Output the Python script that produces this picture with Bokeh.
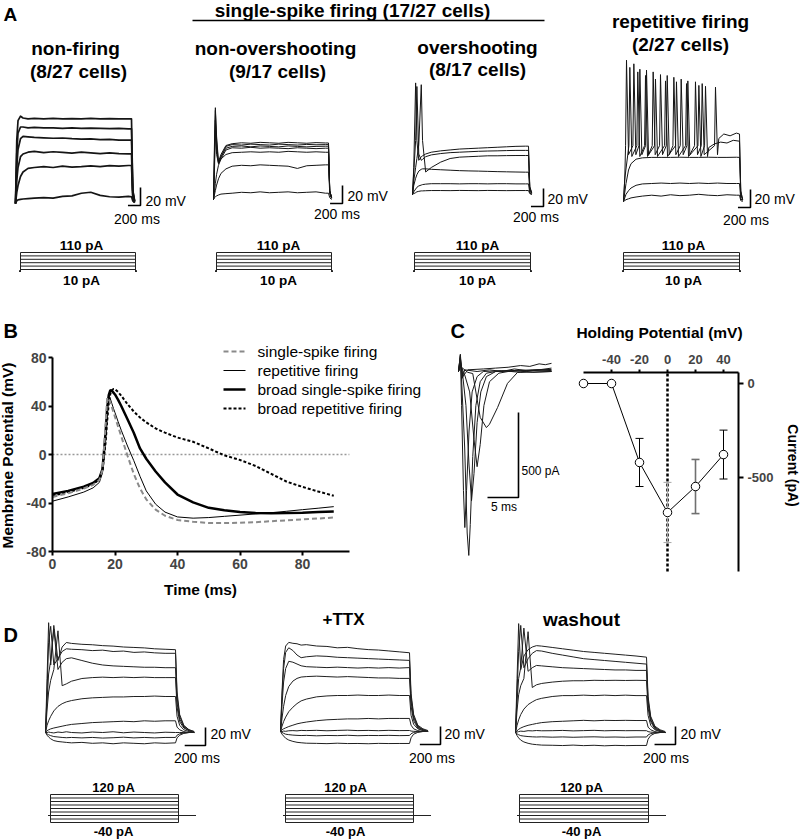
import math
from bokeh.plotting import figure
from bokeh.models import Range1d, FixedTicker, LinearAxis
from bokeh.embed import file_html
from bokeh.resources import INLINE
from bokeh.core.properties import value

FONT = "Liberation Sans"

# ====================== DATA ======================
# Panel A: voltage responses (mV above rest) to 1850-ms current steps
A_STEP_MS = 1850
A_LEVELS_PA = [10, 30, 50, 70, 90, 110]

tA1 = [0, 20, 40, 80, 120, 200, 300, 450, 600, 750, 900, 1050, 1200, 1350, 1500, 1650, 1800, 1850, 1870, 1900]
a1_110 = [0, 70, 92, 97, 95, 94, 94.5, 94, 94.5, 94, 94.3, 94, 94.5, 94, 94.2, 94, 94, 94, 15, 3]
a1_90 = [0, 55, 78, 85, 85, 84, 84.5, 84, 84, 83.5, 84, 83.5, 83.8, 83.5, 83.2, 83.5, 83, 83, 14, 3]
a1_70 = [0, 40, 60, 72, 74.5, 74, 73.5, 73, 72.5, 72.8, 72, 71.5, 71.8, 71, 71.2, 70.5, 70.5, 70.5, 12, 2]
a1_50 = [0, 25, 40, 52, 55, 57, 58, 56.5, 57.5, 56.8, 56, 57, 56.2, 55.5, 56.3, 55.5, 55.2, 55.2, 9, 2]
a1_30 = [0, 12, 20, 30, 35, 39, 40, 41, 40, 41.5, 40.5, 41, 41.8, 41, 42, 41.5, 42.2, 42.2, 7, 1]
a1_10 = [0, 3, 4, 4.5, 5, 5.5, 6, 6.5, 6, 8, 8.5, 11.4, 12.5, 9, 7.5, 7, 8, 7.5, 3, 1]

tA2 = [0, 15, 30, 50, 80, 120, 200, 300, 450, 600, 750, 900, 1050, 1200, 1350, 1500, 1650, 1800, 1850, 1870, 1900]
a2_v1 = [0, 60, 102, 70, 42, 50, 60, 62, 63, 62.5, 63.5, 63, 62.5, 63.5, 63, 62.5, 63.2, 62.8, 62.8, 10, 2]
a2_v2 = [0, 50, 99, 65, 40, 48, 59, 61, 60.5, 61.5, 61, 60.5, 61.5, 61, 60.5, 61.2, 60.8, 61, 61, 10, 2]
a2_v3 = [0, 40, 88, 55, 41, 47, 57, 59, 59.5, 58.5, 59.5, 59, 58.5, 59.5, 59, 58.5, 59, 59.2, 59.2, 9, 2]
a2_v4 = [0, 30, 77, 50, 40, 45, 55, 57.5, 57, 58, 57, 57.5, 57, 56.5, 57.5, 57, 56.5, 57, 57, 9, 2]
a2_v5 = [0, 8, 18, 28, 38, 45, 50, 52, 52.5, 53, 52.5, 53, 52.5, 53.5, 53, 52.5, 53, 52.5, 52.5, 8, 2]
a2_v6 = [0, 5, 10, 16, 23, 29, 34, 37, 38, 37.5, 38.5, 38, 37.5, 37, 34.5, 37.5, 38, 38.5, 38.5, 6, 1]
a2_v7 = [0, 2, 3, 4, 5, 6, 6.5, 7, 8, 7.5, 8.5, 7.5, 8, 8.5, 7.5, 8, 8.5, 7, 7, 2, 0]

tA3 = [0, 20, 50, 70, 100, 140, 160, 210, 300, 450, 600, 750, 900, 1050, 1200, 1350, 1500, 1650, 1800, 1850, 1870, 1900]
a3_v1 = [0, 30, 124, 60, 38, 42, 43, 45, 47, 48.5, 49.5, 50.5, 51, 51.5, 52, 52.5, 53, 53.5, 53.7, 53.7, 9, 2]
a3_v2 = [0, 25, 60, 120, 45, 38, 39, 42, 44, 45.5, 46.5, 47, 47.5, 48, 48.3, 48.5, 48.8, 49, 49, 49, 8, 2]
a3_v3 = [0, 15, 30, 40, 55, 122, 60, 25, 30, 36, 40, 41.5, 42, 42.5, 43, 43, 43.2, 43.3, 43.3, 43.3, 7, 1]
a3_v4 = [0, 10, 18, 22, 26, 28, 28.5, 28.5, 28, 27.5, 27, 26.5, 26.2, 26, 25.7, 25.4, 25.2, 25, 24.8, 24.8, 4, 1]
a3_v5 = [0, 3, 6, 8, 9.5, 10.5, 11, 11.5, 12, 12, 12, 11.8, 12, 12, 11.8, 12, 12, 11.8, 11.8, 11.8, 2, 0]
a3_v6 = [0, 1, 2, 3, 3.5, 4, 4, 4.2, 4.4, 4.4, 4.3, 4.5, 4.4, 4.3, 4.5, 4.4, 4.3, 4.4, 4.4, 4.4, 1, 0]

tA4 = [0, 20, 40, 80, 120, 200, 300, 450, 600, 750, 900, 1050, 1200, 1350, 1500, 1650, 1800, 1850, 1870, 1900]
a4_v3 = [0, 10, 20, 35, 42, 47, 48.5, 49, 49, 49, 49.2, 49, 49, 49.2, 49, 49, 49.2, 49, 8, 2]
a4_v2 = [0, 4, 8, 12, 15, 18, 19.5, 20, 20.5, 20, 20.5, 20, 20.5, 20, 20.5, 20, 20, 20, 3, 1]
a4_v1 = [0, 1, 2, 3, 4, 5, 6, 7, 6, 7.5, 6.5, 7, 8, 7, 6.5, 7.5, 7, 7, 1, 0]
# repetitive-firing spike trains: spike times (ms) and peaks (mV above rest)
s1_t = [48, 165, 261, 367, 473, 590, 697, 803, 920, 1026, 1148, 1255, 1467]
s1_pk = [157, 153, 147, 146, 144, 141, 140, 138, 136, 134, 133, 131, 127]
s1_tail_t = [1520, 1600, 1700, 1800, 1850, 1870, 1900]
s1_tail_v = [70, 75, 73, 76, 75, 12, 2]
s2_t = [101, 228, 351, 510, 670, 845, 1005, 1202, 1308]
s2_pk = [149, 144, 140, 136, 134, 133, 131, 129, 128]
s2_tail_t = [1360, 1450, 1550, 1650, 1750, 1850, 1870, 1900]
s2_tail_v = [60, 64, 66, 65, 68, 67, 11, 2]
SPK_THR, S1_TROUGH, S2_TROUGH = 62, 52, 50

# Panel B: averaged action potentials
tB = [0, 5, 10, 13, 15, 16, 17, 17.5, 18, 18.5, 19, 19.5, 20, 21, 22, 24, 26, 28, 30, 33,
      36, 40, 45, 50, 55, 60, 65, 70, 75, 80, 85, 90]
b_single = [-35, -32, -28, -25, -21, -13, 25, 47, 45.5, 43, 39, 35, 31, 23, 15, -1, -16, -28, -37, -45.5,
            -50.5, -54, -55.5, -56.5, -56.5, -56.3, -55.8, -55, -54.3, -53.5, -52.8, -52]
b_rep = [-38.5, -35, -31, -27.5, -23, -15, 18, 40, 49, 46, 42, 38, 34.5, 27, 20, 7, -5, -18, -30, -41,
         -47.5, -51.5, -52.5, -52, -51, -50, -49, -48, -46.8, -45.5, -44.3, -43]
b_broad_single = [-32.5, -30, -26.5, -23.5, -19.5, -12, 18, 38, 49, 53, 52.5, 51, 49.5, 45, 40, 29, 18, 5, -3.5, -14,
                  -23, -33, -39.5, -44, -46, -47.5, -48.3, -48.5, -48.3, -48, -47.5, -47]
b_broad_rep = [-34, -31, -27.5, -24.5, -20.5, -13, 10, 28, 42, 50, 53, 54, 53.8, 51.5, 48.5, 41.5, 35.5, 30.5, 26.5, 21.5,
               18, 14, 10.5, 5, -0.7, -4.5, -9.5, -16, -22.5, -26.7, -30.5, -34]
b_labels = ["single-spike firing", "repetitive firing", "broad single-spike firing", "broad repetitive firing"]
B_X_TICKS = [0, 20, 40, 60, 80]
B_Y_TICKS = [-80, -40, 0, 40, 80]
B_X_MAX = 95

# Panel C: Na+ currents (pA) vs time (ms) and I-V relation
c1_ta = [0, 0.3, 0.5, 1.0, 1.4, 1.66, 1.9, 2.3, 2.8, 3.5, 4.5, 6, 9, 12, 15]
c1_ia = [0, 90, -50, -450, -950, -1082, -900, -500, -200, -60, -10, 0, 5, -5, 0]
c1_tb = [0, 0.3, 0.5, 0.8, 1.02, 1.3, 1.7, 2.2, 3.0, 4.0, 7, 10, 15]
c1_ib = [0, 100, -200, -700, -918, -700, -350, -120, -30, 0, 5, -5, 0]
c1_tc = [0, 0.3, 0.7, 1.2, 1.7, 2.1, 2.5, 3.0, 3.6, 4.5, 6, 10, 15]
c1_ic = [0, 60, -30, -200, -550, -760, -600, -300, -120, -30, 0, 8, 3]
c1_td = [0, 0.3, 1.0, 1.8, 2.5, 3.0, 3.5, 4.1, 5.0, 6.5, 8, 12, 15]
c1_id = [0, 40, -20, -120, -400, -560, -430, -200, -60, -10, 0, 10, 12]
c1_te = [0, 0.3, 1.5, 2.3, 3.5, 4.5, 5.0, 6.3, 7.9, 9.5, 11, 13, 15]
c1_ie = [0, 30, -5, -12, -270, -330, -310, -212, -70, -6, 0, 10, 20]
c1_tf = [0, 0.3, 0.6, 1, 3, 5, 7, 9, 11, 13, 15]
c1_if = [0, 100, -40, 10, 0, 10, 0, 15, 5, 10, 5]
c1_tg = [0, 0.3, 0.7, 1.5, 4, 6, 8, 10, 11.5, 13, 14, 15]
c1_ig = [0, 80, -30, 10, 15, 20, 25, 35, 30, 45, 40, 48]

iv_mV = [-60, -40, -20, 0, 20, 40]
iv_pA = [0, 0, -420, -686, -548, -378]
iv_sem = [0, 0, 128, 160, 144, 130]
IV_X_TICKS = [-40, -20, 0, 20, 40]
IV_Y_TICKS = [-500, 0]
IV_X_MIN, IV_Y_MIN = -60, -1000

# Panel D: responses to 1250-ms steps, control / +TTX / washout
D_STEP_MS = 1250
D_LEVELS_PA = [-40, -20, 0, 20, 40, 60, 80, 100, 120]
tD = [0, 15, 30, 50, 80, 120, 160, 200, 250, 350, 450, 550, 650, 750, 850, 950, 1050, 1150, 1250,
      1265, 1290, 1330, 1380, 1430]
d1_120 = [0, 60, 122, 75, 119, 80, 95, 100, 99, 98, 97.5, 96.5, 96, 95, 94.5, 94, 93, 92.5, 92, 45, 20, 8, 3, 1]
d1_100 = [0, 45, 100, 118, 75, 82, 90, 93, 92.5, 92, 91, 91.5, 90, 90.5, 89, 89.5, 88.5, 88, 88, 40, 18, 7, 3, 1]
d1_80 = [0, 35, 65, 80, 115, 70, 78, 82, 83, 80, 77, 75, 74, 73.5, 73, 72.5, 72.5, 72, 72, 33, 15, 6, 2, 0]
d1_60 = [0, 25, 45, 58, 70, 113, 52, 54, 57, 60, 61, 61.5, 61, 61.5, 61, 61.5, 61, 61, 61, 28, 12, 5, 2, 0]
d1_40 = [0, 8, 13, 18, 24, 29, 32, 34, 35.5, 37.5, 38.5, 39, 39.5, 39.5, 40, 40, 40.5, 40, 40, 18, 8, 3, 1, 0]
d1_20 = [0, 2, 3, 4, 5, 6, 7, 8, 9, 10, 11, 11.5, 12, 12.5, 12, 13, 12.5, 13, 13, 6, 3, 1, 0, 0]
d1_0 = [0, 0, 0.5, 0, -0.5, 0.5, 0, 0.8, 0, -0.5, 0.5, 0, 0.8, -0.3, 0.5, 0, -0.5, 0.3, 0, 0, 0, 0, 0, 0]
d1_m20 = [0, -1.5, -2.5, -3.5, -4.5, -5, -5.5, -5.8, -5.5, -6, -5.5, -6.2, -5.8, -5.2, -6, -5.5, -6, -5.5, -5.5, -3, -1.5, -0.5, 0, 0]
d1_m40 = [0, -3, -5, -7, -9, -10, -10.5, -11, -11.5, -11, -12, -11.5, -12.5, -11.5, -12, -12.5, -11.5, -12, -11.5, -6, -3, -1, 0, 0]

d2_120 = [0, 45, 80, 95, 99, 98, 97.5, 96, 96.5, 95, 94.5, 93, 93.5, 92, 91, 90.5, 89.5, 88.5, 87.5, 42, 19, 7, 3, 1]
d2_100 = [0, 40, 70, 88, 93, 90, 85, 82, 83, 84, 83.5, 82.5, 82, 81.5, 81, 80.5, 80, 79.5, 79, 38, 17, 6, 2, 0]
d2_80 = [0, 30, 55, 70, 78, 77, 75, 73, 72, 71.5, 71, 71.5, 71, 70.5, 71, 70.5, 71, 70.5, 71, 33, 15, 5, 2, 0]
d2_60 = [0, 15, 28, 40, 50, 56, 59, 60.5, 61, 61.5, 61, 60.5, 61, 60.5, 60, 59.5, 59.5, 59, 59, 28, 12, 4, 1, 0]
d2_40 = [0, 6, 11, 16, 22, 27, 31, 34, 36, 38.5, 39.5, 40, 40, 40.5, 40, 40, 40.5, 40, 40, 18, 8, 3, 1, 0]
d2_20 = [0, 2, 3, 4, 5.5, 7, 8.5, 9.5, 10.5, 12, 13, 13.5, 14, 14, 14.5, 14, 14.5, 14.5, 14.5, 7, 3, 1, 0, 0]
d2_0 = [0, 0, 0.5, 0.2, 0.8, 1, 0.7, 1.2, 1, 1.3, 0.8, 1.2, 1.5, 1, 1.2, 0.9, 1.3, 1, 1.1, 0.5, 0.2, 0, 0, 0]
d2_m20 = [0, -1, -2, -3, -3.5, -4, -4.3, -4.5, -4.3, -4.8, -4.4, -4.6, -4.2, -4.7, -4.4, -4.5, -4.3, -4.6, -4.4, -2.5, -1, -0.3, 0, 0]
d2_m40 = [0, -3, -5, -7.5, -9.5, -11, -12, -12.5, -13, -13.2, -13.5, -13, -13.4, -13.3, -13.6, -13.2, -13.4, -13.3, -13.3, -7, -3, -1, 0, 0]

d3_120 = [0, 60, 121, 70, 85, 92, 95, 96.5, 96, 94.5, 93, 91.5, 90, 89, 88, 87, 86, 85, 83.7, 40, 18, 7, 3, 1]
d3_100 = [0, 45, 90, 119, 72, 82, 88, 91, 90.5, 88, 86, 84, 82, 81, 80, 79, 78, 77, 76, 36, 16, 6, 2, 0]
d3_80 = [0, 35, 60, 72, 116, 68, 72, 74.5, 74, 73, 72, 71.5, 71, 70.5, 70, 69.5, 69.5, 69, 69, 32, 14, 5, 2, 0]
d3_60 = [0, 25, 42, 52, 60, 112, 50, 53, 54.5, 56, 57, 57.5, 57.5, 58, 57.8, 58, 57.8, 58, 57.8, 27, 12, 4, 1, 0]
d3_40 = [0, 8, 14, 20, 26, 31, 34, 36.5, 38, 40, 41, 41, 41.5, 41, 41.5, 41, 41.5, 41, 41, 19, 8, 3, 1, 0]
d3_20 = [0, 2, 3.5, 5, 6.5, 8, 9, 10, 11, 12, 12.5, 13, 13.5, 13, 13.5, 13.3, 13.5, 13.3, 13.3, 6, 3, 1, 0, 0]
d3_0 = [0, 0.5, 1, 1.5, 1.2, 2, 1.8, 2.2, 1.9, 2, 2.3, 1.8, 2.1, 2.4, 1.9, 2.2, 2, 2.1, 2, 1, 0.4, 0.1, 0, 0]
d3_m20 = [0, -1.5, -2.5, -3.5, -4, -4.5, -4.8, -5, -4.8, -5.2, -4.9, -5.3, -5, -4.8, -5.2, -5, -5.3, -5, -5, -2.7, -1.2, -0.4, 0, 0]
d3_m40 = [0, -3.5, -6, -8.5, -10.5, -12, -13, -13.5, -14, -14.2, -14.5, -14, -14.6, -14.2, -14.8, -14.3, -14.6, -14.4, -14.4, -7.5, -3.3, -1, 0, 0]

SB_MS, SB_MV = 200, 20      # scale bars
SB_C_MS, SB_C_PA = 5, 500

# ====================== HELPERS ======================
W, H = 800, 840


def lin_range(d0, p0, d1, p1, lo, hi):
    k = (d1 - d0) / (p1 - p0)
    return Range1d(start=d0 + (lo - p0) * k, end=d0 + (hi - p0) * k)


def inv(d0, p0, d1, p1, px):
    return d0 + (px - p0) * (d1 - d0) / (p1 - p0)


p = figure(width=W, height=H, x_range=Range1d(0, W), y_range=Range1d(H, 0),
           output_backend="svg", toolbar_location=None, min_border=0,
           x_axis_location=None, y_axis_location=None)
p.grid.visible = False
p.outline_line_color = None


def add_ranges(name, xmap, ymap):
    p.extra_x_ranges[name] = lin_range(*xmap, 0, W)
    p.extra_y_ranges[name] = lin_range(*ymap, H, 0)


def txt(x, y, s, size, bold=False, align="left", angle=0.0):
    p.text(x=[x], y=[y], text=[s], text_font=value(FONT), text_font_size=size,
           text_font_style="bold" if bold else "normal", text_align=align,
           text_baseline="middle", text_color="black", angle=angle)


def spike_train(times, peaks, thr, trough, tail_t, tail_v, rise=15, fall=32):
    t, v = [0, 20], [0, 25]
    for ti, pk in zip(times, peaks):
        t += [ti - rise, ti, ti + fall]
        v += [thr, pk, trough]
    return t + tail_t, v + tail_v


MV_PX = 0.9   # px per mV in the A and D trace panels


def trace_panel(name, g, step_ms, traces, lw, color):
    add_ranges(name, (0, g["t0"], step_ms, g["t1"]), (0, g["base"], SB_MV, g["base"] - SB_MV * MV_PX))
    for t, v in traces:
        p.line(t, v, x_range_name=name, y_range_name=name, line_color=color,
               line_width=lw, line_join="round")
    tc = inv(0, g["t0"], step_ms, g["t1"], g["sb"][0])
    vc = (g["base"] - g["sb"][1]) / MV_PX
    p.line([tc - SB_MS, tc, tc], [vc, vc, vc + SB_MV], x_range_name=name, y_range_name=name,
           line_color="black", line_width=1.6)


def stim_panel(name, box, step_ms, ymap, levels, pre, post):
    add_ranges(name, (0, box[0], step_ms, box[1]), ymap)
    xs = [[-pre, 0, 0, step_ms, step_ms, step_ms + post] for _ in levels]
    ys = [[0, 0, L, L, 0, 0] for L in levels]
    p.multi_line(xs, ys, x_range_name=name, y_range_name=name, line_color="#222222", line_width=1)


def style_axis(ax, size, tick_out, standoff):
    ax.axis_line_width = 2
    ax.major_tick_line_width = 2
    ax.major_tick_out = tick_out
    ax.major_tick_in = 0
    ax.minor_tick_line_color = None
    ax.major_label_text_font = FONT
    ax.major_label_text_font_size = size
    ax.major_label_text_font_style = "bold"
    ax.major_label_standoff = standoff


# ====================== PANEL A ======================
A_GEOM = [
    dict(t0=15, t1=131, base=203, sb=(140, 205), stim=(20, 135)),
    dict(t0=213, t1=328, base=199, sb=(342, 203), stim=(216, 331)),
    dict(t0=412, t1=528, base=194, sb=(543, 206), stim=(414, 530)),
    dict(t0=623, t1=739, base=201, sb=(750, 207), stim=(623, 739)),
]
s1 = spike_train(s1_t, s1_pk, SPK_THR, S1_TROUGH, s1_tail_t, s1_tail_v)
s2 = spike_train(s2_t, s2_pk, SPK_THR, S2_TROUGH, s2_tail_t, s2_tail_v)
A_TRACES = [
    [(tA1, v) for v in (a1_110, a1_90, a1_70, a1_50, a1_30, a1_10)],
    [(tA2, v) for v in (a2_v1, a2_v2, a2_v3, a2_v4, a2_v5, a2_v6, a2_v7)],
    [(tA3, v) for v in (a3_v1, a3_v2, a3_v3, a3_v4, a3_v5, a3_v6)],
    [s1, s2] + [(tA4, v) for v in (a4_v3, a4_v2, a4_v1)],
]
for i, (g, tr) in enumerate(zip(A_GEOM, A_TRACES)):
    trace_panel("a%d" % i, g, A_STEP_MS, tr, 1.7 if i == 0 else 1.0, "#151515")
    stim_panel("as%d" % i, g["stim"], A_STEP_MS, (10, 269, 110, 252), A_LEVELS_PA, 20, 20)

txt(3, 13.5, "A", "19px", bold=True)
txt(352, 9.5, "single-spike firing (17/27 cells)", "19px", bold=True, align="center")
p.line([192, 544], [20, 20], line_color="black", line_width=1.5)
A_TITLES = [("non-firing", "(8/27 cells)", 75, 78, 48, 71),
            ("non-overshooting", "(9/17 cells)", 275, 277, 48, 71),
            ("overshooting", "(8/17 cells)", 477, 477, 46.5, 68.5),
            ("repetitive firing", "(2/27 cells)", 680, 680, 20.5, 43.5)]
for l1, l2, x1, x2, y1, y2 in A_TITLES:
    txt(x1, y1, l1, "19px", bold=True, align="center")
    txt(x2, y2, l2, "19px", bold=True, align="center")
A_SBTXT = [(145, 200, 136.5, 218), (347, 195, 336.5, 213), (547, 198, 535.5, 216), (754, 198, 745.5, 219)]
for xm, ym, xs, ys in A_SBTXT:
    txt(xm, ym, "%d mV" % SB_MV, "14px", align="left")
    txt(xs, ys, "%d ms" % SB_MS, "14px", align="center")
for cx in (81, 278, 477, 683):
    txt(cx, 245, "%d pA" % A_LEVELS_PA[-1], "13.5px", bold=True, align="center")
    txt(cx, 279.5, "%d pA" % A_LEVELS_PA[0], "13.5px", bold=True, align="center")

# ====================== PANEL B ======================
add_ranges("B", (0, 52, 80, 302), (-80, 551, 80, 357))
axBx = LinearAxis(x_range_name="B", y_range_name="B", fixed_location=-80, bounds=(0, B_X_MAX),
                  ticker=FixedTicker(ticks=B_X_TICKS))
axBy = LinearAxis(x_range_name="B", y_range_name="B", fixed_location=0, bounds=(-80, 80),
                  ticker=FixedTicker(ticks=B_Y_TICKS),
                  major_label_overrides={k: str(k) for k in B_Y_TICKS})
style_axis(axBx, "14px", 4, 3)
style_axis(axBy, "14px", 4, 2)
p.add_layout(axBx, "below")
p.add_layout(axBy, "left")

p.line([0, B_X_MAX], [0, 0], x_range_name="B", y_range_name="B",
       line_color="#999999", line_width=1.3, line_dash="2 2")
B_STYLES = [dict(line_color="#8a8a8a", line_width=2, line_dash="5 3"),
            dict(line_color="black", line_width=1, line_dash="solid"),
            dict(line_color="black", line_width=2.5, line_dash="solid"),
            dict(line_color="black", line_width=2, line_dash="3 2")]
B_SERIES = [b_single, b_rep, b_broad_single, b_broad_rep]
for order in (3, 1, 2, 0):
    p.line(tB, B_SERIES[order], x_range_name="B", y_range_name="B", **B_STYLES[order])
LEG_Y = [351, 370, 389, 408]
for lbl, st, ly in zip(b_labels, B_STYLES, LEG_Y):
    p.line([223, 245], [ly, ly], **st)
    txt(257, ly, lbl, "15.5px", align="left")
txt(3, 330, "B", "20px", bold=True)
txt(7, 455, "Membrane Potential (mV)", "15.5px", bold=True, align="center", angle=math.pi / 2)
txt(200, 589, "Time (ms)", "15.5px", bold=True, align="center")

# ====================== PANEL C (traces) ======================
add_ranges("C1", (0, 458, 5, 489), (0, 371, -500, 456))
for t, i in [(c1_tg, c1_ig), (c1_tf, c1_if), (c1_te, c1_ie), (c1_td, c1_id),
             (c1_tc, c1_ic), (c1_tb, c1_ib), (c1_ta, c1_ia)]:
    p.line(t, i, x_range_name="C1", y_range_name="C1", line_color="#1a1a1a", line_width=1,
           line_join="round")
tcC = inv(0, 458, 5, 489, 518)
icC = inv(0, 371, -500, 456, 497)
p.line([tcC - SB_C_MS, tcC, tcC], [icC, icC, icC + SB_C_PA], x_range_name="C1", y_range_name="C1",
       line_color="black", line_width=1.6)
txt(450, 330, "C", "20px", bold=True)
txt(521, 470.5, "%d pA" % SB_C_PA, "12px")
txt(503.5, 506, "%d ms" % SB_C_MS, "12px", align="center")

# ====================== PANEL C (I-V) ======================
add_ranges("C2", (0, 667, 20, 695), (0, 383, -500, 477))
C2_TOP = inv(0, 383, -500, 477, 372)
C2_RIGHT = inv(0, 667, 20, 695, 738)
axCx = LinearAxis(x_range_name="C2", y_range_name="C2", fixed_location=C2_TOP,
                  bounds=(IV_X_MIN, C2_RIGHT), ticker=FixedTicker(ticks=IV_X_TICKS),
                  major_label_overrides={k: str(k) for k in IV_X_TICKS})
axCy = LinearAxis(x_range_name="C2", y_range_name="C2", fixed_location=C2_RIGHT,
                  bounds=(IV_Y_MIN, C2_TOP), ticker=FixedTicker(ticks=IV_Y_TICKS),
                  major_label_overrides={k: str(k) for k in IV_Y_TICKS})
style_axis(axCx, "13px", 3, 6)
style_axis(axCy, "13px", 5, 4)
p.add_layout(axCx, "above")
p.add_layout(axCy, "right")

p.line([0, 0], [IV_Y_MIN, C2_TOP], x_range_name="C2", y_range_name="C2",
       line_color="black", line_width=2.5, line_dash="3 2")
p.line(iv_mV, iv_pA, x_range_name="C2", y_range_name="C2", line_color="black", line_width=1)
ERR_COLORS = ["black", "black", "black", "#a8a8a8", "#707070", "black"]
ERR_WIDTHS = [1, 1, 1, 1, 1.6, 1]
CAP = 4 / 1.4
for x, y, e, c, w in zip(iv_mV, iv_pA, iv_sem, ERR_COLORS, ERR_WIDTHS):
    if e > 0:
        p.segment(x0=[x, x - CAP, x - CAP], y0=[y - e, y - e, y + e],
                  x1=[x, x + CAP, x + CAP], y1=[y + e, y - e, y + e],
                  x_range_name="C2", y_range_name="C2", line_color=c, line_width=w)
p.scatter(iv_mV, iv_pA, x_range_name="C2", y_range_name="C2", marker="circle", size=8.5,
          fill_color="white", line_color="black", line_width=1)
txt(659, 331.5, "Holding Potential (mV)", "15.5px", bold=True, align="center")
txt(792, 465, "Current (pA)", "14px", bold=True, align="center", angle=-math.pi / 2)

# ====================== PANEL D ======================
D_GEOM = [
    dict(t0=45, t1=175, base=732, sb=(205, 745), stim=(50, 178)),
    dict(t0=280, t1=409, base=731, sb=(440, 744), stim=(285, 413)),
    dict(t0=515, t1=646, base=732, sb=(675, 744), stim=(519, 648)),
]
D_TRACES = [
    [(tD, v) for v in (d1_120, d1_100, d1_80, d1_60, d1_40, d1_20, d1_0, d1_m20, d1_m40)],
    [(tD, v) for v in (d2_120, d2_100, d2_80, d2_60, d2_40, d2_20, d2_0, d2_m20, d2_m40)],
    [(tD, v) for v in (d3_120, d3_100, d3_80, d3_60, d3_40, d3_20, d3_0, d3_m20, d3_m40)],
]
for i, (g, tr) in enumerate(zip(D_GEOM, D_TRACES)):
    trace_panel("d%d" % i, g, D_STEP_MS, tr, 1.0, "#202020")
    stim_panel("ds%d" % i, g["stim"], D_STEP_MS, (-40, 822, 120, 794), D_LEVELS_PA, 20, 165)

txt(3, 634.5, "D", "20px", bold=True)
txt(343, 619, "+TTX", "17px", bold=True, align="center")
txt(581, 618.5, "washout", "19px", bold=True, align="center")
D_SBTXT = [(210, 733, 196.5, 757), (444, 733, 431.5, 757), (680, 733, 665.5, 757)]
for xm, ym, xs, ys in D_SBTXT:
    txt(xm, ym, "%d mV" % SB_MV, "14px")
    txt(xs, ys, "%d ms" % SB_MS, "14px", align="center")
for cx in (113, 345, 581):
    txt(cx, 786.5, "%d pA" % D_LEVELS_PA[-1], "13px", bold=True, align="center")
    txt(cx, 831, "%d pA" % D_LEVELS_PA[0], "13px", bold=True, align="center")

open("out.html", "w").write(file_html(p, INLINE))
